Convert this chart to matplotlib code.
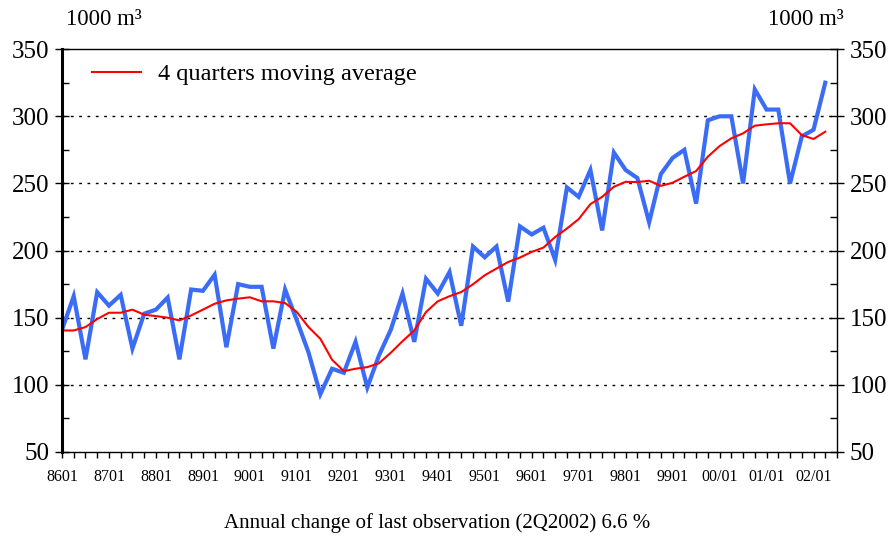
import numpy as np
import matplotlib.pyplot as plt
from matplotlib.ticker import MultipleLocator

plt.rcParams['font.family'] = ['Liberation Serif', 'DejaVu Serif']

# quarterly values 1986Q1 - 2002Q2, 1000 m3
quarterly = [141, 166, 119, 169, 159, 167, 127, 153, 156, 165, 119, 171, 170, 182, 128, 175,
             173, 173, 127, 171, 148, 124, 93, 112, 109, 132, 98, 122, 141, 168, 132, 179,
             168, 184, 144, 203, 195, 203, 162, 218, 212, 217, 193, 247, 240, 260, 215, 273,
             260, 254, 221, 257, 269, 275, 235, 297, 300, 300, 250, 320, 305, 305, 250, 285,
             290, 325]
moving_avg = [140.5, 140.5, 143, 149, 153.7, 153.7, 156, 152.2, 151.2, 150, 148, 151.7, 156, 160.4, 162.9, 164.2,
              165.2, 162.2, 162.2, 160.9, 154.2, 143, 134.3, 118.7, 110.2, 112, 113.2, 116.1, 123.9, 132.5, 140.5, 154.2,
              162.2, 166, 169.1, 174.9, 181.6, 186.6, 191.5, 194.8, 199, 202.2, 210.1, 216.4, 223.4, 234.6, 240, 247.5,
              251.2, 251, 252, 248.2, 250.5, 255, 259.2, 269.9, 277.8, 283.6, 287.3, 293, 294, 294.8, 294.8, 286,
              283.1, 288.5]
year_labels = ['8601', '8701', '8801', '8901', '9001', '9101', '9201', '9301', '9401',
               '9501', '9601', '9701', '9801', '9901', '00/01', '01/01', '02/01']

x = np.arange(len(quarterly))

fig = plt.figure(figsize=(8.93, 5.4), dpi=100)
ax = fig.add_axes([0.0694, 0.163, 0.8679, 0.746])

ax.plot(x, quarterly, color='#3a6cf6', lw=3, solid_joinstyle='miter')
ax.plot(x, moving_avg, color='#ff0000', lw=1.5, label='4 quarters moving average')

ax.set_xlim(0, 66)
ax.set_ylim(50, 350)

ax.yaxis.set_major_locator(MultipleLocator(50))
ax.yaxis.set_minor_locator(MultipleLocator(25))
ax.tick_params(axis='y', which='major', direction='inout', length=10, width=1,
               left=True, right=True, labelleft=True, labelright=True, labelsize=18, pad=4)
ax.tick_params(axis='y', which='minor', direction='in', length=5, width=1, left=True, right=True)

ax.set_xticks(np.arange(0, 66, 4))
ax.set_xticklabels(year_labels)
ax.set_xticks(np.arange(0, 67, 1), minor=True)
ax.tick_params(axis='x', which='both', direction='out', length=4, width=1)
ax.tick_params(axis='x', which='major', labelsize=11.5, pad=8)

for v in [100, 150, 200, 250, 300]:
    ax.axhline(v, color='black', lw=1, ls=(0, (2, 4)), zorder=0)

for s in ax.spines.values():
    s.set_linewidth(1)
ax.spines['left'].set_linewidth(2.2)

ax.legend(loc='upper left', frameon=False, fontsize=17.5, handlelength=2.0,
          handletextpad=0.7, bbox_to_anchor=(0.008, 1.025), borderaxespad=0.6)

fig.text(0.074, 0.963, '1000 m³', fontsize=16.5, va='center', ha='left')
fig.text(0.945, 0.963, '1000 m³', fontsize=16.5, va='center', ha='right')
fig.text(0.49, 0.032, 'Annual change of last observation (2Q2002) 6.6 %', fontsize=15, ha='center', va='center')

fig.savefig('out.png', dpi=100)
